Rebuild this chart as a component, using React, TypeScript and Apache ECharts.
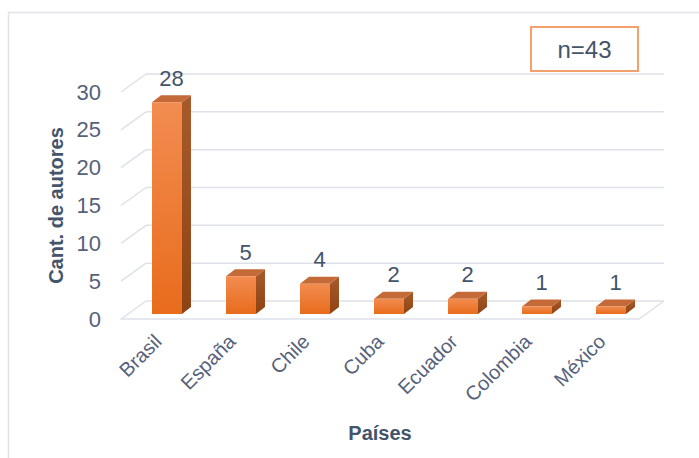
import React, { useEffect, useRef } from "react";
import * as echarts from "echarts";

const categories = ["Brasil", "España", "Chile", "Cuba", "Ecuador", "Colombia", "México"];
const values = [28, 5, 4, 2, 2, 1, 1];
const yTicks = [0, 5, 10, 15, 20, 25, 30];
const sampleNote = "n=43";
const xAxisTitle = "Países";
const yAxisTitle = "Cant. de autores";

const DEPTH_X = 25;
const DEPTH_Y = -18;
const BAR_OFF_X = 9;
const BAR_OFF_Y = -5;
const BAR_DX = 9;
const BAR_DY = -7;
const GRID_COLOR = "#dde1e9";
const FONT = "Liberation Sans, Arial, sans-serif";

export default function App() {
  const ref = useRef<HTMLDivElement>(null);
  useEffect(() => {
    document.body.style.margin = "0";
    const chart = echarts.init(ref.current!, null, { renderer: "svg" });
    const option: any = {
      animation: false,
      backgroundColor: "#ffffff",
      textStyle: { fontFamily: FONT },
      grid: { left: 121, right: 60, top: 92, bottom: 139 },
      xAxis: {
        type: "category",
        data: categories,
        axisLine: { show: true, lineStyle: { color: GRID_COLOR, width: 1.5 } },
        axisTick: { show: false },
        axisLabel: { rotate: 45, fontSize: 20, color: "#56617a", margin: 19, interval: 0 },
        name: xAxisTitle,
        nameLocation: "middle",
        nameGap: 104,
        nameTextStyle: { fontSize: 20, fontWeight: "bold", color: "#44546a" },
      },
      yAxis: {
        type: "value",
        min: 0,
        max: 30,
        interval: 5,
        axisLine: { show: false },
        axisTick: { show: false },
        splitLine: { show: false },
        axisLabel: { fontSize: 22, color: "#56617a", margin: 20 },
        name: yAxisTitle,
        nameLocation: "middle",
        nameGap: 54,
        nameTextStyle: { fontSize: 20, fontWeight: "bold", color: "#44546a" },
      },
      graphic: [
        {
          type: "rect",
          z: -10,
          shape: { x: 8.5, y: 12.5, width: 760, height: 500 },
          style: { fill: "none", stroke: "#dfe3ea", lineWidth: 1.5 },
          silent: true,
        },
        {
          type: "group",
          z: 10,
          children: [
            {
              type: "rect",
              shape: { x: 531, y: 27, width: 107, height: 44 },
              style: { fill: "#ffffff", stroke: "#f2a06c", lineWidth: 2 },
            },
            {
              type: "text",
              x: 584.5,
              y: 49,
              style: {
                text: sampleNote,
                fontSize: 24,
                fill: "#44546a",
                align: "center",
                verticalAlign: "middle",
                fontFamily: FONT,
              },
            },
          ],
        },
      ],
      series: [
        {
          type: "custom",
          name: "walls",
          silent: true,
          z: 1,
          data: yTicks.map((t) => [0, t]),
          renderItem: (params: any, api: any) => {
            const cs = params.coordSys;
            const y = api.coord([0, api.value(1)])[1];
            const x0 = cs.x;
            const x1 = cs.x + cs.width;
            const ls = { stroke: GRID_COLOR, lineWidth: 1.5 };
            const children: any[] = [
              { type: "line", shape: { x1: x0, y1: y, x2: x0 + DEPTH_X, y2: y + DEPTH_Y }, style: ls },
              { type: "line", shape: { x1: x0 + DEPTH_X, y1: y + DEPTH_Y, x2: x1 + DEPTH_X, y2: y + DEPTH_Y }, style: ls },
            ];
            if (api.value(1) === 0) {
              children.push({ type: "line", shape: { x1: x1, y1: y, x2: x1 + DEPTH_X, y2: y + DEPTH_Y }, style: ls });
            }
            return { type: "group", children };
          },
        },
        {
          type: "custom",
          name: "Cant. de autores",
          z: 5,
          data: values.map((v, i) => [i, v]),
          renderItem: (params: any, api: any) => {
            const idx = api.value(0);
            const v = api.value(1);
            const base = api.coord([idx, 0]);
            const top = api.coord([idx, v]);
            const bw = api.size([1, 0])[0] * 0.405;
            const x0 = base[0] - bw / 2 + BAR_OFF_X;
            const x1 = x0 + bw;
            const yb = base[1] + BAR_OFF_Y;
            const yt = top[1] + BAR_OFF_Y;
            return {
              type: "group",
              children: [
                {
                  type: "polygon",
                  shape: { points: [[x1, yt], [x1 + BAR_DX, yt + BAR_DY], [x1 + BAR_DX, yb + BAR_DY], [x1, yb]] },
                  style: {
                    fill: new echarts.graphic.LinearGradient(0, 0, 0, 1, [
                      { offset: 0, color: "#a85a2a" },
                      { offset: 1, color: "#8e4312" },
                    ]),
                  },
                },
                {
                  type: "polygon",
                  shape: { points: [[x0, yt], [x1, yt], [x1 + BAR_DX, yt + BAR_DY], [x0 + BAR_DX, yt + BAR_DY]] },
                  style: { fill: "#c46a38" },
                },
                {
                  type: "rect",
                  shape: { x: x0, y: yt, width: bw, height: yb - yt },
                  style: {
                    fill: new echarts.graphic.LinearGradient(0, 0, 0, 1, [
                      { offset: 0, color: "#f28c50" },
                      { offset: 1, color: "#e86c1c" },
                    ]),
                  },
                },
                {
                  type: "text",
                  x: (x0 + x1 + BAR_DX) / 2,
                  y: yt + BAR_DY - 6,
                  style: {
                    text: String(v),
                    fontSize: 22,
                    fill: "#44546a",
                    align: "center",
                    verticalAlign: "bottom",
                    fontFamily: FONT,
                  },
                },
              ],
            };
          },
        },
      ],
    };
    chart.setOption(option);
    return () => chart.dispose();
  }, []);
  return <div ref={ref} style={{ width: 699, height: 458 }} />;
}
